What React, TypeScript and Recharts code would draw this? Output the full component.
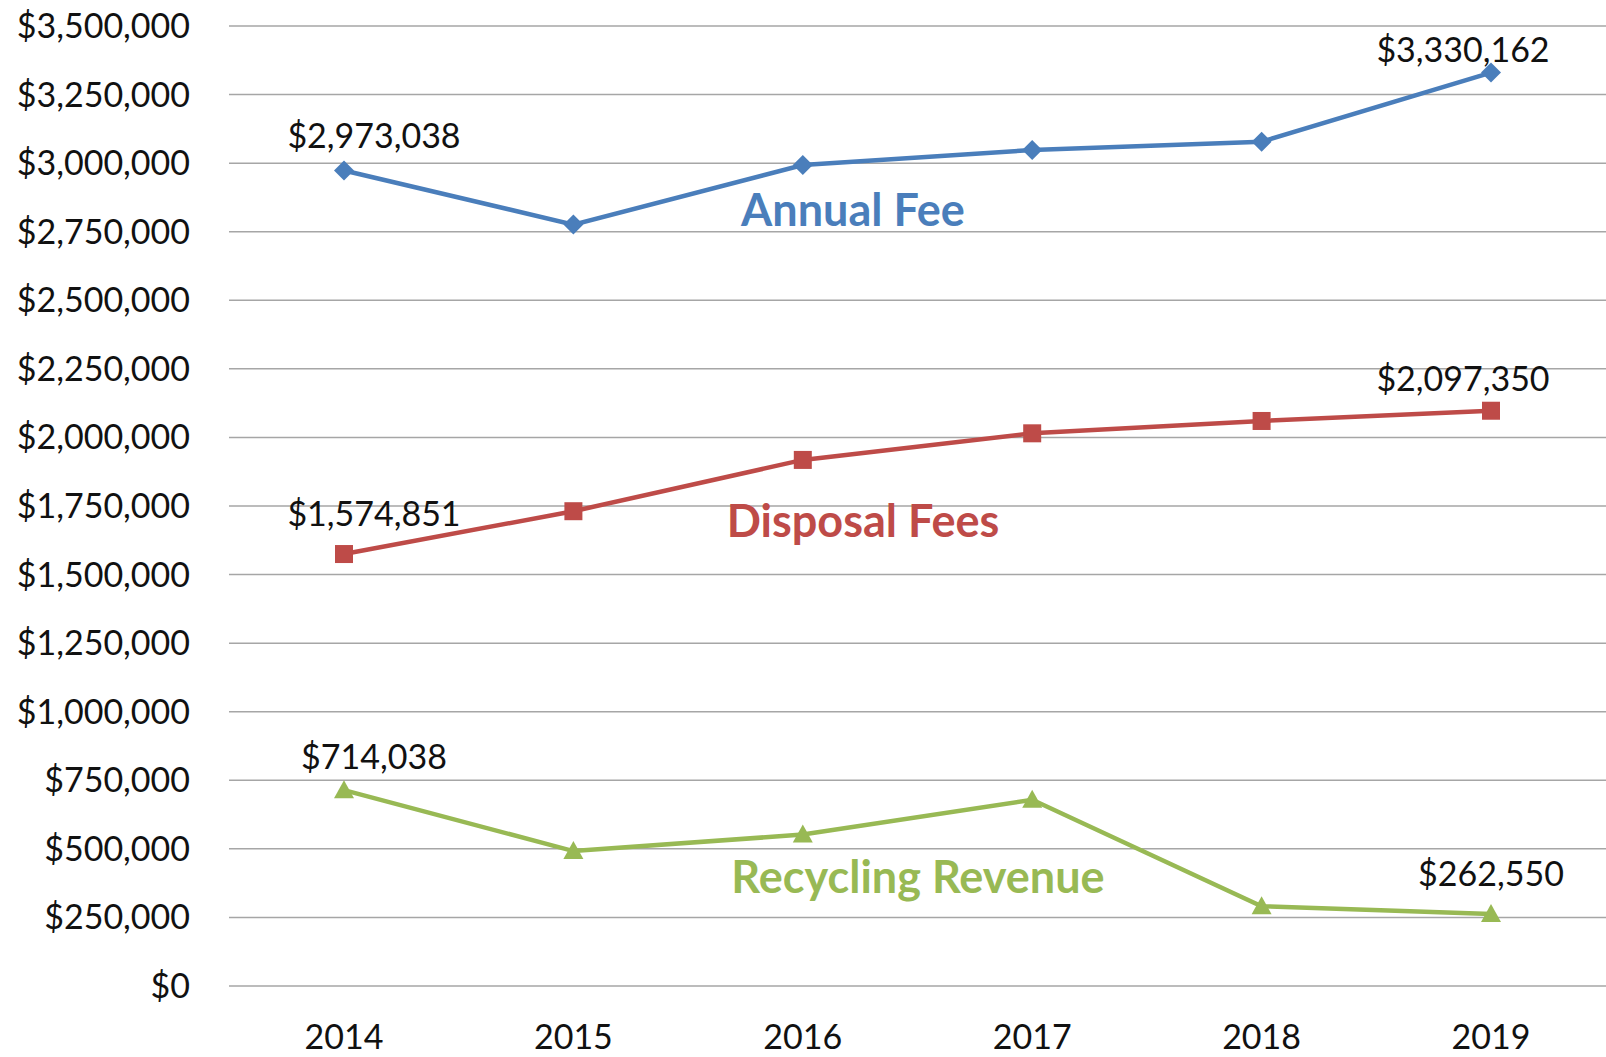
import React from "react";
import { LineChart, Line, XAxis, YAxis, CartesianGrid } from "recharts";

const years = ["2014", "2015", "2016", "2017", "2018", "2019"];
const annualFee = [2973038, 2776000, 2993000, 3048000, 3078000, 3330162];
const disposalFees = [1574851, 1731000, 1918000, 2015000, 2060000, 2097350];
const recyclingRevenue = [714038, 492000, 552000, 679000, 291000, 262550];
const yTicks = [0, 250000, 500000, 750000, 1000000, 1250000, 1500000, 1750000, 2000000, 2250000, 2500000, 2750000, 3000000, 3250000, 3500000];

const W = 1606;
const H = 1057;
const FONT = "Lato, 'Open Sans', sans-serif";

const BLUE = "#4A7EBB";
const RED = "#BE4B48";
const GREEN = "#98B954";

const data = years.map((y, i) => ({
  year: y,
  annual: annualFee[i],
  disposal: disposalFees[i],
  recycling: recyclingRevenue[i],
}));

const money = (v: number) => "$" + v.toLocaleString("en-US");

// label offsets for first / last point of each line
const labelOffsets: Record<string, Record<number, [number, number]>> = {
  annual: { 0: [30, -34], 5: [-28, -22] },
  disposal: { 0: [30, -40], 5: [-28, -32] },
  recycling: { 0: [30, -33], 5: [0, -40] },
};

const makeLabel = (key: string) => (props: any) => {
  const { x, y, value, index } = props;
  const off = labelOffsets[key][index];
  if (!off) return null;
  return (
    <text
      key={key + index}
      x={x + off[0]}
      y={y + off[1]}
      dy="0.35em"
      textAnchor="middle"
      fontFamily={FONT}
      fontSize={34}
      fill="#111"
    >
      {money(value)}
    </text>
  );
};

const Diamond = (props: any) => {
  const { cx, cy, index } = props;
  const s = 10;
  return (
    <path
      key={"d" + index}
      d={`M${cx},${cy - s} L${cx + s},${cy} L${cx},${cy + s} L${cx - s},${cy} Z`}
      fill={BLUE}
    />
  );
};

const Square = (props: any) => {
  const { cx, cy, index } = props;
  const s = 9;
  return <rect key={"s" + index} x={cx - s} y={cy - s} width={s * 2} height={s * 2} fill={RED} />;
};

const Triangle = (props: any) => {
  const { cx, cy, index } = props;
  const s = 10;
  return (
    <path
      key={"t" + index}
      d={`M${cx},${cy - s} L${cx + s},${cy + s * 0.8} L${cx - s},${cy + s * 0.8} Z`}
      fill={GREEN}
    />
  );
};

const seriesNames = [
  { text: "Annual Fee", color: BLUE, x: 853, y: 210 },
  { text: "Disposal Fees", color: RED, x: 863, y: 521 },
  { text: "Recycling Revenue", color: GREEN, x: 918, y: 877 },
];

export default function App() {
  return (
    <div style={{ position: "absolute", left: 0, top: 0, width: W, height: H, background: "#fff" }}>
      <LineChart width={W} height={H} data={data} margin={{ top: 26, right: 0, bottom: 0, left: 0 }}>
        <CartesianGrid vertical={false} stroke="#A6A6A6" strokeWidth={1.5} />
        <XAxis
          dataKey="year"
          axisLine={false}
          tickLine={false}
          height={71}
          tickSize={0}
          tickMargin={39}
          padding={{ left: 115, right: 115 }}
          tick={{ fill: "#111", fontSize: 34, fontFamily: FONT }}
        />
        <YAxis
          domain={[0, 3500000]}
          ticks={yTicks}
          width={229}
          axisLine={false}
          tickLine={false}
          tickSize={0}
          tickMargin={39}
          tickFormatter={money}
          tick={{ fill: "#111", fontSize: 34, fontFamily: FONT }}
        />
        <Line
          dataKey="annual"
          stroke={BLUE}
          strokeWidth={4.5}
          dot={<Diamond />}
          label={makeLabel("annual")}
          isAnimationActive={false}
        />
        <Line
          dataKey="disposal"
          stroke={RED}
          strokeWidth={4.5}
          dot={<Square />}
          label={makeLabel("disposal")}
          isAnimationActive={false}
        />
        <Line
          dataKey="recycling"
          stroke={GREEN}
          strokeWidth={4.5}
          dot={<Triangle />}
          label={makeLabel("recycling")}
          isAnimationActive={false}
        />
      </LineChart>
      <svg width={W} height={H} style={{ position: "absolute", left: 0, top: 0, pointerEvents: "none" }}>
        {seriesNames.map((s) => (
          <text
            key={s.text}
            x={s.x}
            y={s.y}
            dy="0.35em"
            textAnchor="middle"
            fontFamily={FONT}
            fontWeight="bold"
            fontSize={45}
            fill={s.color}
          >
            {s.text}
          </text>
        ))}
      </svg>
    </div>
  );
}
